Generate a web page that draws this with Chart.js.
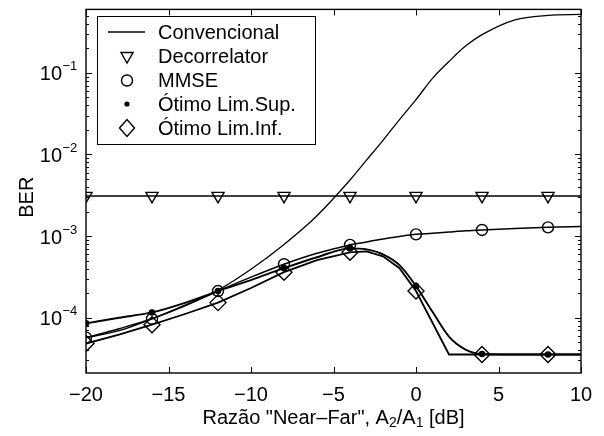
<!DOCTYPE html>
<html>
<head>
<meta charset="utf-8">
<script src="https://cdn.jsdelivr.net/npm/chart.js@4.4.0/dist/chart.umd.min.js"></script>
<style>
body { margin: 0; background: #fff; }
canvas { display: block; }
</style>
</head>
<body>
<canvas id="myChart" width="604" height="436"></canvas>
<script>
var FONT = "'Liberation Sans', Arial, Helvetica, sans-serif";

var seriesNames = ['Convencional', 'Decorrelator', 'MMSE', 'Ótimo Lim.Sup.', 'Ótimo Lim.Inf.'];

var xLine = [-20, -18, -16, -14, -12, -10, -8, -6, -4, -3, -2, -1, 0, 1, 2, 3, 4, 6, 8, 10];
// x of the markers
var markerX = [-20, -16, -12, -8, -4, 0, 4, 8];

var convBER = [5.70e-5, 6.93e-5, 9.70e-5, 1.43e-4, 2.18e-4, 3.93e-4, 7.91e-4, 1.78e-3, 4.87e-3, 8.53e-3,
               1.49e-2, 2.68e-2, 4.70e-2, 8.57e-2, 0.138, 0.213, 0.294, 0.447, 0.507, 0.521];
var decorBER = [3.11e-3, 3.11e-3, 3.11e-3, 3.11e-3, 3.11e-3, 3.11e-3, 3.11e-3, 3.11e-3, 3.11e-3, 3.11e-3,
                3.11e-3, 3.11e-3, 3.11e-3, 3.11e-3, 3.11e-3, 3.11e-3, 3.11e-3, 3.11e-3, 3.11e-3, 3.11e-3];
var mmseBER = [5.70e-5, 7.33e-5, 9.70e-5, 1.40e-4, 2.12e-4, 3.14e-4, 4.52e-4, 6.15e-4, 7.80e-4, 8.48e-4,
               9.23e-4, 9.89e-4, 1.05e-3, 1.08e-3, 1.12e-3, 1.16e-3, 1.19e-3, 1.24e-3, 1.28e-3, 1.31e-3];
var supBER = [8.51e-5, 9.98e-5, 1.16e-4, 1.52e-4, 2.12e-4, 2.89e-4, 4.04e-4, 5.50e-4, 7.07e-4, 6.87e-4,
              5.97e-4, 4.40e-4, 2.44e-4, 1.18e-4, 5.86e-5, 4.07e-5, 3.59e-5, 3.54e-5, 3.54e-5, 3.54e-5];
var infBER = [4.82e-5, 6.19e-5, 8.20e-5, 1.11e-4, 1.53e-4, 2.31e-4, 3.61e-4, 5.06e-4, 6.32e-4, 6.50e-4,
              5.65e-4, 4.04e-4, 2.12e-4, 8.67e-5, 3.54e-5, 3.54e-5, 3.54e-5, 3.54e-5, 3.54e-5, 3.54e-5];

var xTicks = [-20, -15, -10, -5, 0, 5, 10];
var yDecades = [-4, -3, -2, -1];

function pts(ys) {
    return xLine.map((x, i) => ({x: x, y: ys[i]}));
}
function pick(ys) {
    return markerX.map(x => ({x: x, y: ys[xLine.indexOf(x)]}));
}
function minus(v) {
    return v < 0 ? '\u2212' + Math.abs(v) : String(v);
}

function lineSet(ys, w, tension) {
    return {data: pts(ys), borderColor: '#000', borderWidth: w, pointRadius: 0,
            tension: tension, cubicInterpolationMode: tension ? 'monotone' : 'default', fill: false};
}
function markSet(ys, style, r, filled) {
    return {data: pick(ys), showLine: false, pointStyle: style, pointRadius: r,
            pointRotation: style === 'triangle' ? 180 : 0,
            pointBorderColor: '#000', pointBorderWidth: 1.4,
            pointBackgroundColor: filled ? '#000' : 'rgba(0,0,0,0)'};
}

// legend symbols
function drawSymbol(ctx, k, x, y) {
    ctx.beginPath();
    if (k == 0) {
        ctx.lineWidth = 1.5;
        ctx.moveTo(108, y); ctx.lineTo(145, y);
        ctx.stroke();
        return;
    }
    ctx.lineWidth = 1.4;
    if (k == 1) {
        var r = 7;
        ctx.moveTo(x, y + r);
        ctx.lineTo(x - r * 0.866, y - r / 2);
        ctx.lineTo(x + r * 0.866, y - r / 2);
        ctx.closePath();
        ctx.stroke();
    } else if (k == 2) {
        ctx.arc(x, y, 5.5, 0, Math.PI * 2);
        ctx.stroke();
    } else if (k == 3) {
        ctx.arc(x, y, 2.6, 0, Math.PI * 2);
        ctx.fill();
    } else {
        ctx.moveTo(x - 7.5, y); ctx.lineTo(x, y - 8.5);
        ctx.lineTo(x + 7.5, y); ctx.lineTo(x, y + 8.5);
        ctx.closePath();
        ctx.stroke();
    }
}

const axesPlugin = {
    id: 'matlabAxes',
    afterDatasetsDraw(chart) {
        const ctx = chart.ctx, a = chart.chartArea;
        const xs = chart.scales.x, ys = chart.scales.y;
        ctx.save();
        ctx.strokeStyle = '#000';
        ctx.fillStyle = '#000';

        // inward ticks
        ctx.lineWidth = 1;
        ctx.beginPath();
        xTicks.forEach(v => {
            const px = Math.round(xs.getPixelForValue(v)) + 0.5;
            ctx.moveTo(px, a.bottom); ctx.lineTo(px, a.bottom - 6);
            ctx.moveTo(px, a.top); ctx.lineTo(px, a.top + 6);
        });
        for (let e = -5; e <= -1; e++) {
            for (let m = 1; m <= 9; m++) {
                const v = m * Math.pow(10, e);
                if (v < ys.min || v > ys.max) continue;
                const py = Math.round(ys.getPixelForValue(v)) + 0.5;
                const len = m == 1 ? 6 : 3;
                ctx.moveTo(a.left, py); ctx.lineTo(a.left + len, py);
                ctx.moveTo(a.right, py); ctx.lineTo(a.right - len, py);
            }
        }
        ctx.stroke();

        // box
        ctx.lineWidth = 1.4;
        ctx.strokeRect(a.left, a.top, a.right - a.left, a.bottom - a.top);

        // x tick labels
        ctx.font = '20px ' + FONT;
        ctx.textAlign = 'center';
        ctx.textBaseline = 'middle';
        xTicks.forEach(v => ctx.fillText(minus(v), xs.getPixelForValue(v), 395));

        // y tick labels 10^e
        yDecades.forEach(e => {
            const py = ys.getPixelForValue(Math.pow(10, e));
            ctx.font = '20px ' + FONT;
            ctx.textAlign = 'right';
            ctx.fillText('10', 62, py + 2);
            ctx.font = '13px ' + FONT;
            ctx.textAlign = 'left';
            ctx.fillText(minus(e), 62.5, py - 6);
        });

        // y title
        ctx.save();
        ctx.translate(27, (a.top + a.bottom) / 2 + 6);
        ctx.rotate(-Math.PI / 2);
        ctx.font = '20px ' + FONT;
        ctx.textAlign = 'center';
        ctx.fillText('BER', 0, 0);
        ctx.restore();

        // x title with subscripts
        const parts = [['Razão "Near\u2013Far", A', 0], ['2', 1], ['/A', 0], ['1', 1], [' [dB]', 0]];
        let total = 0;
        parts.forEach(p => {
            ctx.font = (p[1] ? '14px ' : '20px ') + FONT;
            total += ctx.measureText(p[0]).width;
        });
        let tx = (a.left + a.right) / 2 - total / 2;
        ctx.textAlign = 'left';
        parts.forEach(p => {
            ctx.font = (p[1] ? '14px ' : '20px ') + FONT;
            ctx.fillText(p[0], tx, p[1] ? 423 : 418);
            tx += ctx.measureText(p[0]).width;
        });

        // legend
        ctx.fillStyle = '#fff';
        ctx.fillRect(97, 16, 218, 128);
        ctx.lineWidth = 1;
        ctx.strokeRect(97.5, 16.5, 218, 128);
        ctx.fillStyle = '#000';
        const rows = [32, 56, 80.5, 104, 128];
        seriesNames.forEach((name, k) => {
            drawSymbol(ctx, k, 127, rows[k]);
            ctx.font = '20px ' + FONT;
            ctx.textAlign = 'left';
            ctx.textBaseline = 'middle';
            ctx.fillText(name, 158, rows[k] + 1);
        });
        ctx.restore();
    }
};

new Chart(document.getElementById('myChart'), {
    type: 'line',
    data: {
        datasets: [
            lineSet(convBER, 1.3, 0.4),
            lineSet(decorBER, 1.5, 0),
            lineSet(mmseBER, 1.5, 0.4),
            lineSet(supBER, 1.9, 0.4),
            lineSet(infBER, 1.8, 0),
            markSet(decorBER, 'triangle', 7, false),
            markSet(mmseBER, 'circle', 5.5, false),
            markSet(supBER, 'circle', 2.6, true),
            markSet(infBER, 'rectRot', 8, false)
        ]
    },
    options: {
        responsive: false,
        animation: false,
        devicePixelRatio: 1,
        layout: {padding: {left: 86, right: 23, top: 6, bottom: 63}},
        plugins: {legend: {display: false}, tooltip: {enabled: false}},
        scales: {
            x: {type: 'linear', min: -20, max: 10, display: false},
            y: {type: 'logarithmic', min: 2.1e-5, max: 0.6, display: false}
        }
    },
    plugins: [axesPlugin]
});
</script>
</body>
</html>
